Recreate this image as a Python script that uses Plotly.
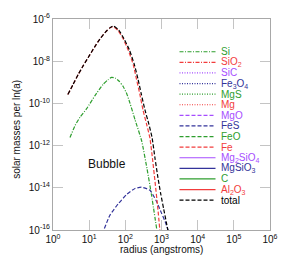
import plotly.graph_objects as go

# ---------------- data ----------------
# radius in angstroms, mass in solar masses per ln(a)
si_radius = [2.95, 4.07, 5.62, 8.51, 14.5, 24.5, 33.1, 41.7, 52.5, 67.6, 87.1,
             110, 135, 186, 282, 398, 525, 759]
si_mass = [2.40e-12, 8.9e-12, 2.24e-11, 5.62e-11, 2.34e-10, 8.13e-10, 1.32e-9,
           1.70e-9, 1.58e-9, 1.12e-9, 6.31e-10, 2.82e-10, 1.0e-10, 1.66e-11,
           1.70e-12, 7.94e-14, 5.01e-15, 7.94e-17]

fes_radius = [22.9, 37.2, 63.1, 110, 186, 282, 479, 708, 1000, 1259, 1585]
fes_mass = [6.31e-17, 4.90e-16, 1.70e-15, 4.90e-15, 9.33e-15, 1.07e-14,
            7.59e-15, 2.51e-15, 6.31e-16, 2.51e-16, 7.94e-17]

fe_radius = [2.57, 3.55, 5.01, 6.92, 10.0, 14.1, 20.0, 28.2, 37.2, 46.8, 63.1,
             87.1, 120, 166, 204, 251, 309, 389, 479, 562, 661, 794, 933]
fe_mass = [2.63e-10, 7.59e-10, 2.40e-9, 6.31e-9, 1.78e-8, 4.68e-8, 1.15e-7,
           2.40e-7, 3.72e-7, 4.37e-7, 2.82e-7, 1.15e-7, 3.39e-8, 6.76e-9,
           1.38e-9, 2.82e-10, 4.79e-11, 1.0e-11, 2.24e-12, 2.51e-13, 2.0e-14,
           1.0e-15, 5.01e-17]

total_radius = [2.57, 3.55, 5.01, 6.92, 10.0, 14.1, 20.0, 28.2, 37.2, 46.8, 66.1,
                91.2, 129, 178, 224, 275, 347, 447, 550, 661, 794, 955, 1148,
                1349, 1622]
total_mass = [2.63e-10, 7.59e-10, 2.40e-9, 6.31e-9, 1.78e-8, 4.68e-8, 1.15e-7,
              2.40e-7, 3.80e-7, 4.68e-7, 2.95e-7, 1.17e-7, 3.47e-8, 6.92e-9,
              1.41e-9, 2.88e-10, 5.01e-11, 1.05e-11, 2.34e-12, 2.51e-13,
              3.16e-14, 5.01e-15, 1.0e-15, 2.51e-16, 5.01e-17]

species = ["Si", "SiO<sub>2</sub>", "SiC", "Fe<sub>3</sub>O<sub>4</sub>", "MgS",
           "Mg", "MgO", "FeS", "FeO", "Fe", "Mg<sub>2</sub>SiO<sub>4</sub>",
           "MgSiO<sub>3</sub>", "C", "Al<sub>2</sub>O<sub>3</sub>", "total"]

x_tick_vals = [1, 10, 100, 1000, 1e4, 1e5, 1e6]
x_tick_text = ["10<sup>0</sup>", "10<sup>1</sup>", "10<sup>2</sup>", "10<sup>3</sup>",
               "10<sup>4</sup>", "10<sup>5</sup>", "10<sup>6</sup>"]
y_tick_vals = [1e-6, 1e-8, 1e-10, 1e-12, 1e-14, 1e-16]
y_tick_text = ["10<sup>-6</sup>", "10<sup>-8</sup>", "10<sup>-10</sup>",
               "10<sup>-12</sup>", "10<sup>-14</sup>", "10<sup>-16</sup>"]

# ---------------- styles ----------------
GREEN = "#2e9e2e"
RED = "#f23c3c"
PURPLE = "#a64dff"
BLUE = "#33339a"
BLACK = "#000000"
DASH = "4px,2px"
DOT = "1px,1.5px"
DASHDOT = "4px,1.5px,1px,1.5px"
SOLID = "solid"

styles = [
    (GREEN, DASHDOT), (RED, DASHDOT), (PURPLE, DOT), (BLUE, DOT), (GREEN, DOT),
    (RED, DOT), (PURPLE, DASH), (BLUE, DASH), (GREEN, DASH), (RED, DASH),
    (PURPLE, SOLID), (BLUE, SOLID), (GREEN, SOLID), (RED, SOLID), (BLACK, DASH),
]

series_data = {
    "Si": (si_radius, si_mass),
    "FeS": (fes_radius, fes_mass),
    "Fe": (fe_radius, fe_mass),
    "total": (total_radius, total_mass),
}

FONT = "Liberation Sans, Arial, sans-serif"

fig = go.Figure()
for name, (col, dash) in zip(species, styles):
    if name in series_data:
        xs, ys = series_data[name]
        fig.add_trace(go.Scatter(x=xs, y=ys, mode="lines", name=name,
                                 line=dict(color=col, dash=dash, width=1.2,
                                           shape="spline", smoothing=0.5),
                                 showlegend=False, hoverinfo="skip"))

# manual legend (paper coordinates computed from entry index)
W, H = 293, 258
ML, MR, MT, MB = 53, 23, 13, 28
pw, ph = W - ML - MR, H - MT - MB
leg_first_px = 46.7
leg_step_px = 10.9
x_line0 = (179.5 - ML) / pw
x_line1 = (215.5 - ML) / pw
x_text = (218.5 - ML) / pw
shapes = []
annotations = []
for i, (name, (col, dash)) in enumerate(zip(species, styles)):
    py = leg_first_px + i * leg_step_px
    yp = (H - MB - py) / ph
    shapes.append(dict(type="line", xref="paper", yref="paper",
                       x0=x_line0, x1=x_line1, y0=yp, y1=yp,
                       line=dict(color=col, dash=dash, width=1.2)))
    annotations.append(dict(xref="paper", yref="paper", x=x_text, y=yp,
                            xanchor="left", yanchor="middle", text=name,
                            showarrow=False,
                            font=dict(family=FONT, size=10, color=col)))

annotations.append(dict(xref="paper", yref="paper", x=(106.5 - ML) / pw,
                        y=(H - MB - 162) / ph, text="Bubble", showarrow=False,
                        xanchor="center", yanchor="middle",
                        font=dict(family=FONT, size=12, color="#111")))
annotations.append(dict(xref="paper", yref="paper", x=0.5,
                        y=(H - MB - 250) / ph, text="radius (angstroms)",
                        showarrow=False, xanchor="center", yanchor="middle",
                        font=dict(family=FONT, size=10, color="#111")))
annotations.append(dict(xref="paper", yref="paper", x=(17 - ML) / pw,
                        y=(H - MB - 127) / ph, text="solar masses per ln(a)",
                        textangle=-90, showarrow=False, xanchor="center",
                        yanchor="middle",
                        font=dict(family=FONT, size=10, color="#111")))

axis_common = dict(showgrid=False, zeroline=False, showline=True,
                   linecolor="#a8a8a8", linewidth=1, mirror="ticks",
                   ticks="inside", ticklen=10, tickcolor="#c4c4c4", tickwidth=1,
                   tickfont=dict(family=FONT, size=10, color="#111"))

fig.update_layout(
    width=W, height=H,
    margin=dict(l=ML, r=MR, t=MT, b=MB, pad=0),
    paper_bgcolor="white", plot_bgcolor="white",
    showlegend=False,
    hovermode=False,
    xaxis=dict(type="log", range=[0, 6], tickvals=x_tick_vals,
               ticktext=x_tick_text, **axis_common),
    yaxis=dict(type="log", range=[-16, -6], tickvals=y_tick_vals,
               ticktext=y_tick_text, **axis_common),
    shapes=shapes,
    annotations=annotations,
)

fig.write_html("out.html",
               config={"displayModeBar": False, "staticPlot": True},
               post_script="document.body.style.margin='0';"
                           "document.body.style.overflow='hidden';")
